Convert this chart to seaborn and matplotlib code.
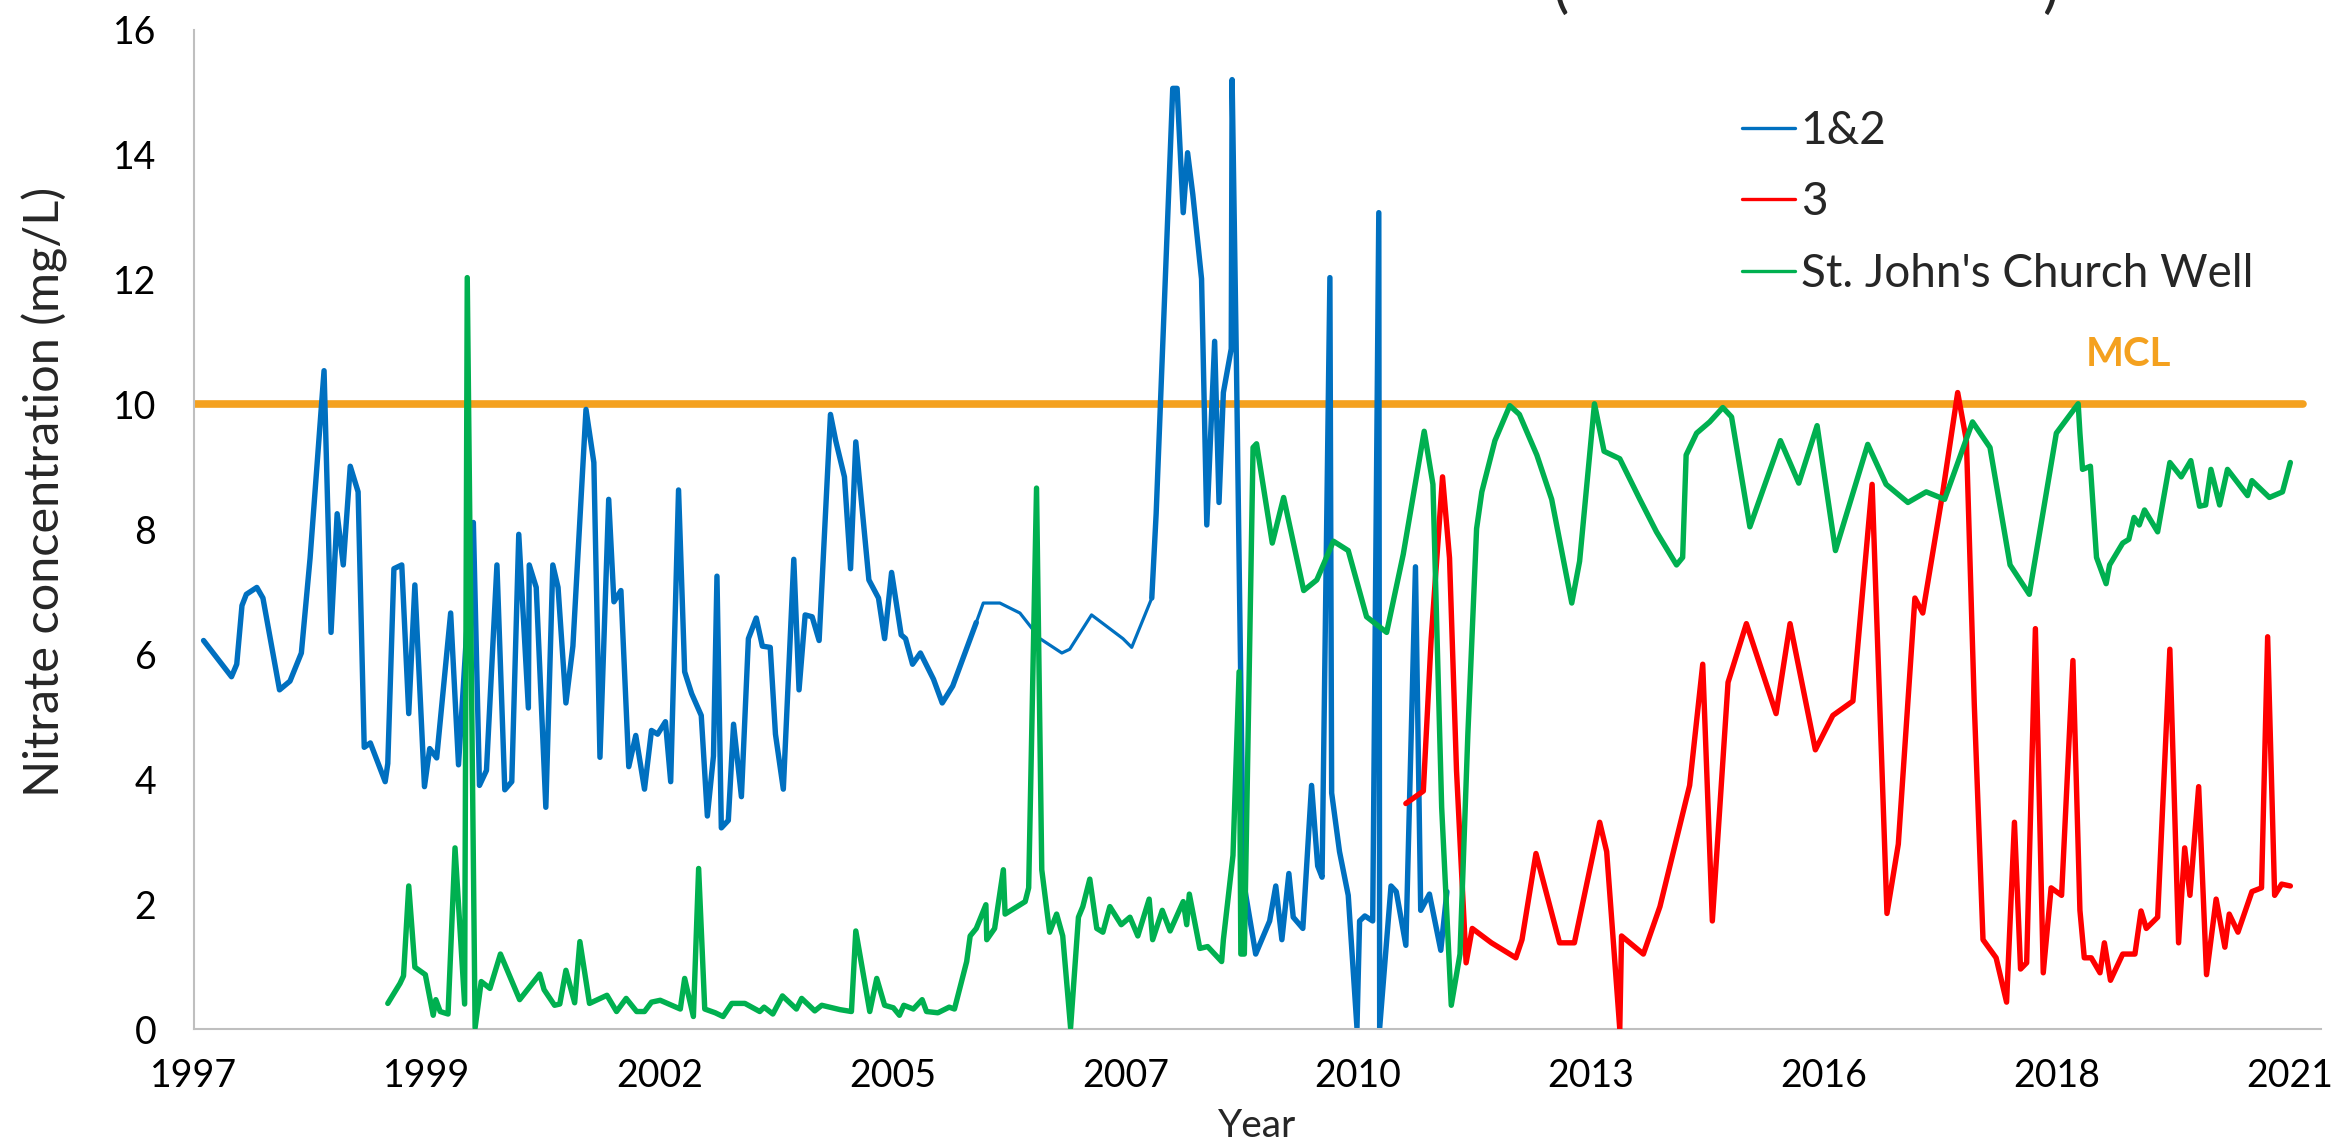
import matplotlib
matplotlib.use("Agg")
import matplotlib.pyplot as plt
from matplotlib.lines import Line2D
import seaborn as sns

# values (decimal year, mg/L)
series_names = ["1&2", "3", "St. John's Church Well"]
year_labels = ["1997", "1999", "2002", "2005", "2007",
               "2010", "2013", "2016", "2018", "2021"]
mcl_level = 10

blue_year = [1997.11, 1997.43, 1997.49, 1997.55, 1997.60, 1997.72, 1997.79, 1997.98, 1998.10, 1998.23,
             1998.33, 1998.49, 1998.57, 1998.64, 1998.71, 1998.79, 1998.88, 1998.95, 1999.02, 1999.19,
             1999.22, 1999.29, 1999.38, 1999.46, 1999.53, 1999.64, 1999.70, 1999.78, 1999.94, 2000.03,
             2000.20, 2000.27, 2000.35, 2000.47, 2000.56, 2000.64, 2000.72, 2000.83, 2000.84, 2000.92,
             2001.03, 2001.11, 2001.17, 2001.26, 2001.34, 2001.49, 2001.58, 2001.65, 2001.75, 2001.81,
             2001.89, 2001.98, 2002.06, 2002.16, 2002.24, 2002.31, 2002.40, 2002.46, 2002.55, 2002.62,
             2002.70, 2002.81, 2002.88, 2002.95, 2002.99, 2003.04, 2003.12, 2003.18, 2003.27, 2003.35,
             2003.44, 2003.51, 2003.60, 2003.66, 2003.75, 2003.87, 2003.93, 2004.00, 2004.08, 2004.16,
             2004.29, 2004.35, 2004.45, 2004.52, 2004.58, 2004.73, 2004.84, 2004.91, 2004.99, 2005.10,
             2005.15, 2005.23, 2005.32, 2005.47, 2005.57, 2005.69, 2005.96, 2006.04, 2006.23, 2006.46,
             2006.69, 2006.94, 2007.03, 2007.28, 2007.64, 2007.74, 2007.97, 2008.02, 2008.21, 2008.26,
             2008.33, 2008.38, 2008.44, 2008.54, 2008.60, 2008.69, 2008.74, 2008.79, 2008.88, 2008.89,
             2008.94, 2009.02, 2009.16, 2009.32, 2009.39, 2009.46, 2009.54, 2009.59, 2009.70, 2009.80,
             2009.87, 2009.92, 2010.01, 2010.03, 2010.12, 2010.22, 2010.32, 2010.35, 2010.41, 2010.50,
             2010.57, 2010.58, 2010.71, 2010.77, 2010.88, 2010.99, 2011.05, 2011.15, 2011.28, 2011.35]
blue_val = [6.22, 5.64, 5.84, 6.78, 6.96, 7.07, 6.90, 5.43, 5.57, 6.02,
            7.54, 10.54, 6.35, 8.25, 7.43, 9.01, 8.60, 4.51, 4.58, 3.96,
            4.25, 7.37, 7.43, 5.05, 7.11, 3.88, 4.49, 4.34, 6.66, 4.23,
            8.11, 3.90, 4.14, 7.43, 3.83, 3.96, 7.92, 5.14, 7.43, 7.07,
            3.55, 7.43, 7.07, 5.22, 6.13, 9.92, 9.07, 4.35, 8.48, 6.84,
            7.02, 4.20, 4.70, 3.84, 4.78, 4.72, 4.92, 3.96, 8.63, 5.72,
            5.37, 5.02, 3.41, 4.37, 7.25, 3.22, 3.34, 4.88, 3.72, 6.25,
            6.58, 6.13, 6.11, 4.72, 3.84, 7.52, 5.43, 6.63, 6.60, 6.22,
            9.84, 9.42, 8.84, 7.37, 9.40, 7.19, 6.90, 6.25, 7.31, 6.31,
            6.25, 5.84, 6.02, 5.60, 5.22, 5.49, 6.51, 6.82, 6.82, 6.66,
            6.25, 6.02, 6.08, 6.63, 6.25, 6.11, 6.90, 8.25, 15.06, 15.06,
            13.07, 14.03, 13.36, 12.01, 8.07, 11.01, 8.43, 10.19, 10.89, 15.20,
            10.60, 2.37, 1.20, 1.73, 2.29, 1.43, 2.49, 1.79, 1.61, 3.90,
            2.61, 2.43, 12.03, 3.78, 2.84, 2.14, 0.02, 1.73, 1.81, 1.73,
            13.07, 0.02, 2.29, 2.20, 1.34, 7.40, 1.90, 2.16, 1.26, 2.20]
# the 1&2 trace is drawn thinner over its sparse stretch
blue_thin_span = (2005.96, 2007.97)

red_year = [2010.88, 2011.08, 2011.17, 2011.30, 2011.38, 2011.46, 2011.57, 2011.64, 2011.86, 2012.14,
            2012.21, 2012.37, 2012.64, 2012.81, 2013.10, 2013.18, 2013.33, 2013.35, 2013.60, 2013.79,
            2014.13, 2014.28, 2014.39, 2014.57, 2014.78, 2015.12, 2015.28, 2015.57, 2015.77, 2016.00,
            2016.22, 2016.39, 2016.52, 2016.71, 2016.80, 2017.03, 2017.20, 2017.30, 2017.39, 2017.49,
            2017.64, 2017.76, 2017.85, 2017.92, 2017.99, 2018.09, 2018.18, 2018.27, 2018.39, 2018.52,
            2018.60, 2018.65, 2018.73, 2018.83, 2018.88, 2018.95, 2019.09, 2019.23, 2019.30, 2019.36,
            2019.49, 2019.63, 2019.73, 2019.80, 2019.86, 2019.96, 2020.05, 2020.16, 2020.26, 2020.31,
            2020.41, 2020.57, 2020.68, 2020.75, 2020.83, 2020.91, 2021.01]
red_val = [3.61, 3.81, 6.25, 8.84, 7.54, 4.14, 1.06, 1.61, 1.38, 1.14,
           1.43, 2.81, 1.38, 1.38, 3.31, 2.84, 0.00, 1.49, 1.20, 1.96,
           3.90, 5.84, 1.73, 5.55, 6.49, 5.05, 6.49, 4.47, 5.02, 5.25,
           8.72, 1.85, 2.96, 6.90, 6.66, 8.60, 10.19, 9.42, 5.20, 1.43,
           1.14, 0.43, 3.31, 0.96, 1.06, 6.41, 0.90, 2.26, 2.14, 5.90,
           1.90, 1.14, 1.14, 0.90, 1.38, 0.78, 1.20, 1.20, 1.89, 1.61,
           1.79, 6.08, 1.38, 2.90, 2.14, 3.88, 0.87, 2.08, 1.31, 1.84,
           1.55, 2.20, 2.26, 6.28, 2.14, 2.32, 2.29]

green_year = [1999.22, 1999.36, 1999.40, 1999.46, 1999.53, 1999.65, 1999.74, 1999.77, 1999.82, 1999.91,
              1999.99, 2000.10, 2000.13, 2000.22, 2000.29, 2000.39, 2000.51, 2000.73, 2000.96, 2001.01,
              2001.13, 2001.19, 2001.26, 2001.36, 2001.42, 2001.53, 2001.73, 2001.84, 2001.95, 2002.07,
              2002.16, 2002.24, 2002.34, 2002.57, 2002.62, 2002.72, 2002.78, 2002.85, 2002.97, 2003.06,
              2003.16, 2003.31, 2003.48, 2003.53, 2003.63, 2003.74, 2003.90, 2003.96, 2004.11, 2004.19,
              2004.40, 2004.53, 2004.58, 2004.74, 2004.82, 2004.91, 2005.01, 2005.08, 2005.13, 2005.24,
              2005.34, 2005.39, 2005.52, 2005.65, 2005.71, 2005.85, 2005.89, 2005.96, 2006.07, 2006.08,
              2006.17, 2006.27, 2006.29, 2006.52, 2006.56, 2006.65, 2006.71, 2006.80, 2006.88, 2006.95,
              2007.04, 2007.13, 2007.18, 2007.26, 2007.34, 2007.41, 2007.49, 2007.62, 2007.72, 2007.81,
              2007.94, 2007.98, 2008.09, 2008.18, 2008.33, 2008.37, 2008.40, 2008.52, 2008.61, 2008.77,
              2008.79, 2008.90, 2008.97, 2008.99, 2009.03, 2009.13, 2009.17, 2009.35, 2009.48, 2009.71,
              2009.86, 2010.05, 2010.22, 2010.43, 2010.66, 2010.85, 2011.09, 2011.19, 2011.29, 2011.40,
              2011.50, 2011.59, 2011.69, 2011.75, 2011.90, 2012.07, 2012.18, 2012.38, 2012.55, 2012.78,
              2012.87, 2013.04, 2013.15, 2013.33, 2013.56, 2013.75, 2013.98, 2014.05, 2014.09, 2014.21,
              2014.36, 2014.51, 2014.61, 2014.82, 2015.17, 2015.38, 2015.59, 2015.80, 2016.17, 2016.38,
              2016.63, 2016.84, 2017.05, 2017.37, 2017.57, 2017.80, 2018.02, 2018.16, 2018.33, 2018.58,
              2018.60, 2018.63, 2018.72, 2018.79, 2018.90, 2018.94, 2019.09, 2019.16, 2019.22, 2019.28,
              2019.34, 2019.49, 2019.63, 2019.76, 2019.87, 2019.97, 2020.04, 2020.10, 2020.20, 2020.29,
              2020.52, 2020.57, 2020.77, 2020.92, 2021.01]
green_val = [0.41, 0.73, 0.85, 2.29, 0.99, 0.87, 0.22, 0.47, 0.28, 0.24,
             2.90, 0.40, 12.03, 0.02, 0.76, 0.65, 1.20, 0.47, 0.88, 0.63,
             0.38, 0.40, 0.94, 0.42, 1.40, 0.41, 0.54, 0.28, 0.49, 0.28,
             0.28, 0.43, 0.46, 0.32, 0.81, 0.20, 2.57, 0.32, 0.26, 0.20,
             0.41, 0.41, 0.28, 0.35, 0.24, 0.53, 0.32, 0.49, 0.29, 0.38,
             0.31, 0.28, 1.57, 0.28, 0.81, 0.38, 0.34, 0.22, 0.38, 0.32,
             0.47, 0.28, 0.26, 0.35, 0.32, 1.08, 1.49, 1.61, 1.99, 1.43,
             1.61, 2.55, 1.84, 2.04, 2.26, 8.66, 2.55, 1.55, 1.84, 1.49,
             0.02, 1.79, 1.96, 2.40, 1.61, 1.55, 1.96, 1.67, 1.79, 1.49,
             2.08, 1.43, 1.90, 1.57, 2.04, 1.67, 2.16, 1.29, 1.32, 1.08,
             1.43, 2.78, 5.72, 1.20, 1.20, 9.31, 9.37, 7.78, 8.51, 7.02,
             7.19, 7.81, 7.66, 6.60, 6.35, 7.60, 9.57, 8.72, 3.55, 0.38,
             1.20, 4.72, 8.01, 8.60, 9.42, 9.98, 9.84, 9.19, 8.48, 6.82,
             7.49, 10.01, 9.25, 9.13, 8.48, 7.96, 7.43, 7.55, 9.19, 9.54,
             9.72, 9.95, 9.80, 8.04, 9.42, 8.74, 9.66, 7.66, 9.36, 8.72,
             8.43, 8.60, 8.48, 9.72, 9.31, 7.43, 6.96, 8.13, 9.54, 10.01,
             9.54, 8.96, 9.01, 7.55, 7.13, 7.43, 7.78, 7.84, 8.19, 8.07,
             8.31, 7.96, 9.07, 8.84, 9.10, 8.37, 8.39, 8.96, 8.39, 8.96,
             8.54, 8.78, 8.51, 8.60, 9.07]

mcl_year = [1997.0, 2021.15]
mcl_val = [mcl_level, mcl_level]

BLUE = "#0070C0"
RED = "#FF0000"
GREEN = "#00B050"
ORANGE = "#F4A11F"
LW = 3.9

sns.set_theme(style="white")
plt.rcParams["font.family"] = ["Lato", "DejaVu Sans"]

fig = plt.figure(figsize=(23.51, 11.45), dpi=100)
ax = fig.add_axes([0.0825, 0.1013, 0.9047, 0.8728])

sns.lineplot(x=mcl_year, y=mcl_val, color=ORANGE, lw=5.5, ax=ax, zorder=1)

# split blue trace so the sparse stretch can be drawn thinner
i0 = blue_year.index(blue_thin_span[0])
i1 = blue_year.index(blue_thin_span[1])
for a, b, w in [(0, i0 + 1, LW), (i0, i1 + 1, 2.3), (i1, len(blue_year), LW)]:
    sns.lineplot(x=blue_year[a:b], y=blue_val[a:b], color=BLUE, lw=w, ax=ax,
                 sort=False, estimator=None, zorder=2)
sns.lineplot(x=red_year, y=red_val, color=RED, lw=LW, ax=ax, sort=False,
             estimator=None, zorder=3)
sns.lineplot(x=green_year, y=green_val, color=GREEN, lw=LW, ax=ax, sort=False,
             estimator=None, zorder=4)
for ln in ax.lines:
    ln.set_solid_joinstyle("round")
    ln.set_solid_capstyle("round")

ax.set_xlim(1997, 2021.36)
ax.set_ylim(0, 16)
ax.set_xticks([1997 + k * 24 / 9 for k in range(10)])
ax.set_xticklabels(year_labels)
ax.set_yticks(range(0, 17, 2))
ax.tick_params(axis="both", length=0, labelsize=27, colors="black")
ax.tick_params(axis="y", pad=27)
ax.tick_params(axis="x", pad=21)

for side in ["top", "right"]:
    ax.spines[side].set_visible(False)
for side in ["left", "bottom"]:
    ax.spines[side].set_color("#BFBFBF")
    ax.spines[side].set_linewidth(1.5)

ax.set_ylabel("Nitrate concentration (mg/L)", fontsize=35, va="center")
ax.yaxis.set_label_coords(-0.070, 0.537)
ax.set_xlabel("Year", fontsize=28, va="center")
ax.xaxis.set_label_coords(0.5, -0.097)

ax.text(2019.16, 10.8, "MCL", color=ORANGE, fontsize=29, fontweight="bold",
        ha="center", va="center")

handles = [Line2D([], [], color=c, lw=2.4) for c in (BLUE, RED, GREEN)]
ax.legend(handles, series_names, loc="upper left",
          bbox_to_anchor=(1742 / 2351, 1 - 110 / 1145), bbox_transform=fig.transFigure,
          frameon=False, fontsize=33, handlelength=1.16, handletextpad=0.12,
          labelspacing=0.64, borderpad=0, borderaxespad=0)

# title sits above the frame; only the bottoms of its brackets show
fig.text(1560 / 2351, 1 - 6 / 1145, "(", fontsize=44, ha="center", va="baseline")
fig.text(2050 / 2351, 1 - 6 / 1145, ")", fontsize=44, ha="center", va="baseline")

fig.savefig("out.png", dpi=100)
